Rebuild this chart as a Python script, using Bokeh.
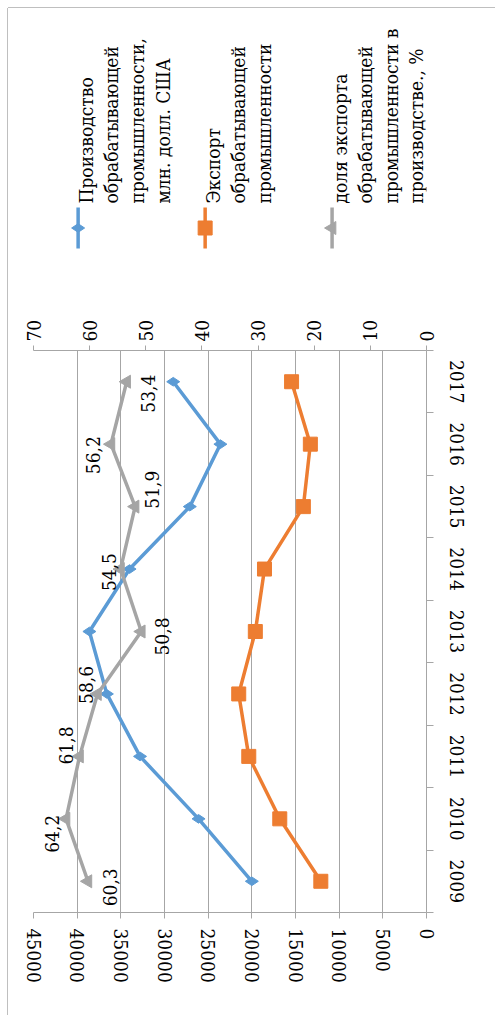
import math
from bokeh.plotting import figure
from bokeh.layouts import column
from bokeh.models import Range1d, LinearAxis, FixedTicker, ColumnDataSource
from bokeh.core.properties import value
from bokeh.embed import file_html
from bokeh.resources import INLINE

# ---------------- data ----------------
years = [2009, 2010, 2011, 2012, 2013, 2014, 2015, 2016, 2017]
production = [20000, 26100, 32800, 36600, 38600, 34000, 27100, 23600, 29000]   # млн. долл. США
export = [12100, 16800, 20350, 21500, 19600, 18550, 14100, 13300, 15450]
share = [60.3, 64.2, 61.8, 58.6, 50.8, 54.5, 51.9, 56.2, 53.4]               # %
value_ticks = [0, 5000, 10000, 15000, 20000, 25000, 30000, 35000, 40000, 45000]
pct_ticks = [0, 10, 20, 30, 40, 50, 60, 70]

legend_labels = [
    ["Производство", "обрабатывающей", "промышленности,", "млн. долл. США"],
    ["Экспорт", "обрабатывающей", "промышленности"],
    ["доля экспорта", "обрабатывающей", "промышленности в", "производстве., %"],
]

# label placement (styling only, pixels)
label_dx = [22, -14, -14, -12, 21, -12, 17, -18, 21]
label_dy = [6, 15, -11, -9, 5, 3, -17, 11, 12]

BLUE = "#5B9BD5"
ORANGE = "#ED7D31"
GRAY = "#A5A5A5"
GRID = "#A6A6A6"
FONT = "DejaVu Serif Condensed"
ROT = math.pi / 2

W = 487
LEG_H = 300
MAIN_H = 707

leg = figure(width=W, height=LEG_H, x_range=Range1d(0, W), y_range=Range1d(LEG_H, 0),
             x_axis_type=None, y_axis_type=None, toolbar_location=None,
             output_backend="svg", min_border=0)
leg.outline_line_color = None
leg.grid.visible = False

glyph_x = [55.3, 212.7, 370.0]
colors = [BLUE, ORANGE, GRAY]
markers = ["diamond", "square", "triangle"]
msizes = [13, 14, 13]
mangles = [ROT, 0, ROT]
for i in range(3):
    gx = glyph_x[i]
    leg.segment(x0=[gx], y0=[199], x1=[gx], y1=[240], line_color=colors[i], line_width=3.5)
    leg.scatter(x=[gx], y=[219.5], marker=markers[i], size=msizes[i], angle=mangles[i],
                fill_color=colors[i], line_color=colors[i])
    lines = legend_labels[i]
    xs = [gx + 9.5 + k * 31.7 for k in range(len(lines))]
    leg.text(x=xs, y=[195] * len(lines), text=lines, angle=ROT,
             text_align="left", text_baseline="alphabetic",
             text_font=value(FONT), text_font_size="19px", text_color="#000000")

p = figure(width=W, height=MAIN_H,
           x_range=Range1d(45000, 0), y_range=Range1d(2008.5, 2017.5),
           x_axis_location="below", y_axis_location=None,
           toolbar_location=None, output_backend="svg",
           min_border_left=25, min_border_right=69, min_border_top=42, min_border_bottom=103)
p.outline_line_color = None
p.extra_x_ranges = {"pct": Range1d(70, 0)}

def style_axis(ax, tick_out, standoff):
    ax.major_label_orientation = "vertical"
    ax.major_label_text_font = FONT
    ax.major_label_text_font_size = "19px"
    ax.major_label_text_color = "#000000"
    ax.axis_line_color = GRID
    ax.major_tick_line_color = GRID
    ax.major_tick_out = tick_out
    ax.major_tick_in = 0
    ax.minor_tick_line_color = None
    ax.major_label_standoff = standoff

xa = p.xaxis[0]
xa.ticker = FixedTicker(ticks=value_ticks)
style_axis(xa, 6, 10)

ta = LinearAxis(x_range_name="pct", ticker=FixedTicker(ticks=pct_ticks))
style_axis(ta, 5, 4)
p.add_layout(ta, "above")

bounds = [y - 0.5 for y in years] + [years[-1] + 0.5]
ya = LinearAxis(ticker=FixedTicker(ticks=years, minor_ticks=bounds))
ya.major_label_overrides = {y: str(y) for y in years}
style_axis(ya, 0, 16)
ya.major_tick_line_color = None
ya.minor_tick_line_color = GRID
ya.minor_tick_out = 7
ya.minor_tick_in = 0
p.add_layout(ya, "right")

p.xgrid.ticker = FixedTicker(ticks=value_ticks)
p.xgrid.grid_line_color = GRID
p.ygrid.visible = False

src = ColumnDataSource(dict(year=years, prod=production, exp=export, share=share,
                            lbl=[f"{v:.1f}".replace(".", ",") for v in share],
                            dx=label_dx, dy=label_dy))

p.line(x="prod", y="year", source=src, line_color=BLUE, line_width=3.5)
p.scatter(x="prod", y="year", source=src, marker="diamond", size=13, angle=ROT,
          fill_color=BLUE, line_color=BLUE)
p.line(x="exp", y="year", source=src, line_color=ORANGE, line_width=3.5)
p.scatter(x="exp", y="year", source=src, marker="square", size=14,
          fill_color=ORANGE, line_color=ORANGE)
p.line(x="share", y="year", source=src, x_range_name="pct", line_color=GRAY, line_width=3.5)
p.scatter(x="share", y="year", source=src, x_range_name="pct", marker="triangle", size=13,
          angle=ROT, fill_color=GRAY, line_color=GRAY)
p.text(x="share", y="year", text="lbl", source=src, x_range_name="pct",
       x_offset="dx", y_offset="dy", angle=ROT,
       text_align="center", text_baseline="middle",
       text_font=value(FONT), text_font_size="19px", text_color="#000000")

layout = column(leg, p, spacing=0,
                styles={"margin-left": "8px", "margin-top": "8px",
                        "box-shadow": "-1px 0px 0 0 #BFBFBF, 0px -1px 0 0 #BFBFBF"})

with open("out.html", "w") as f:
    f.write(file_html(layout, INLINE))
